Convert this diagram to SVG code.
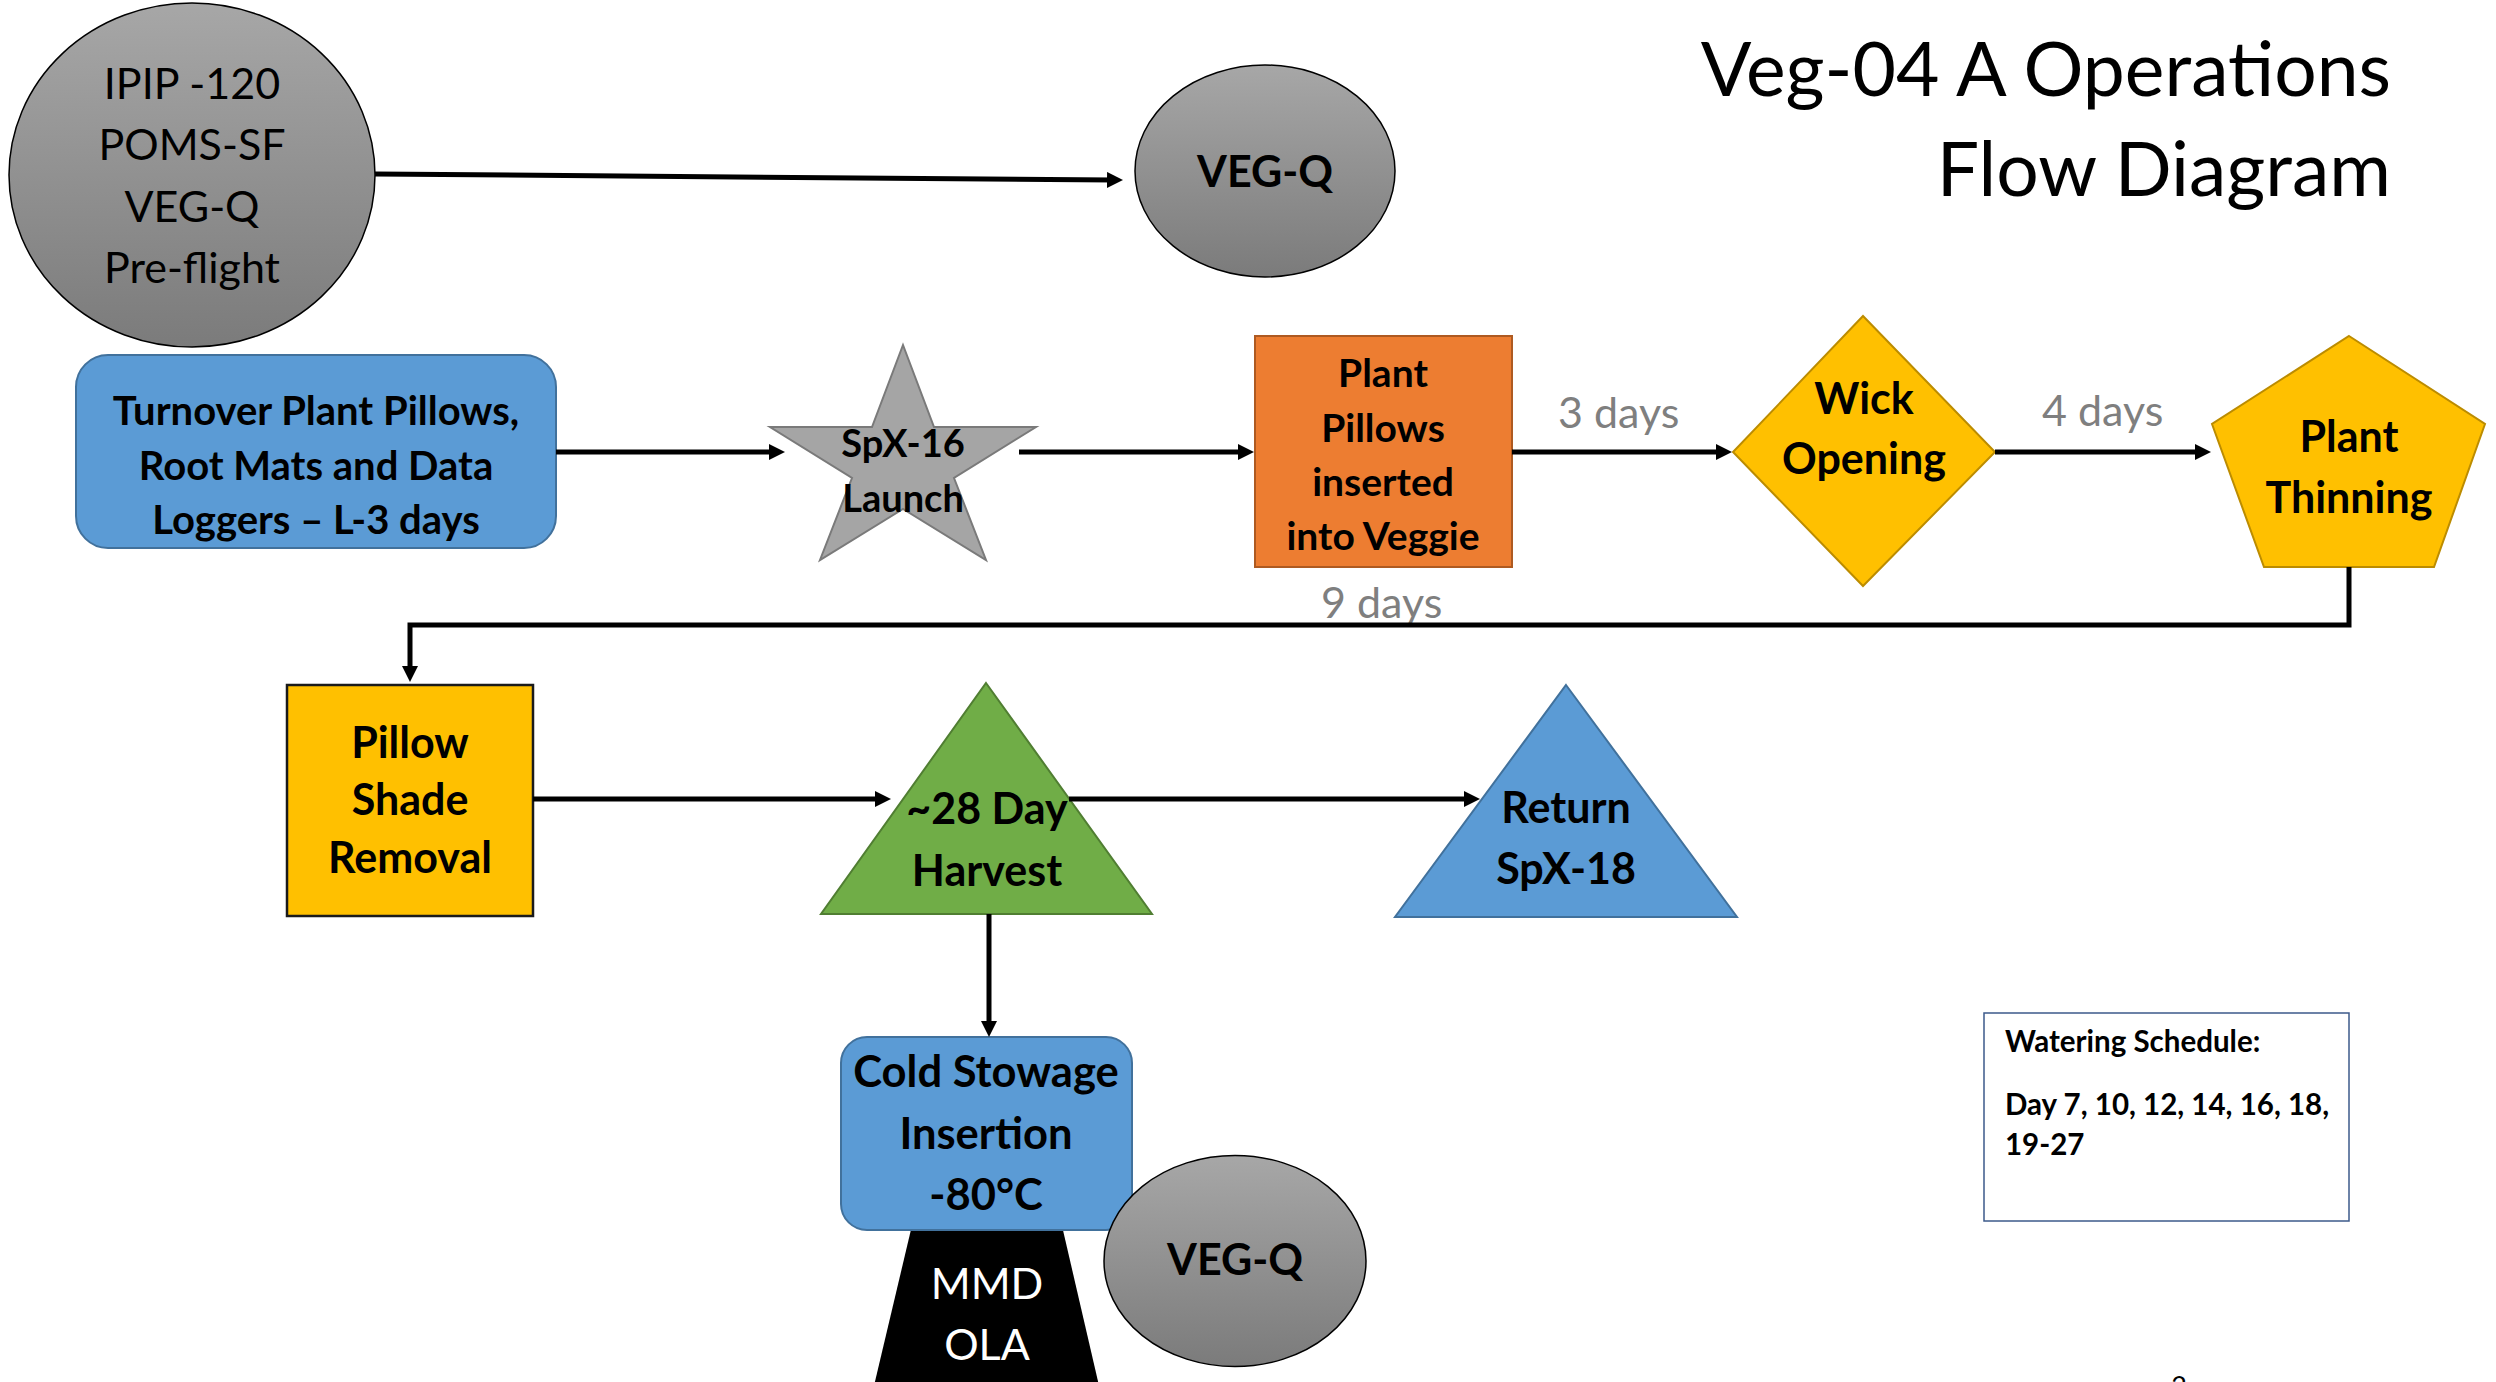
<svg xmlns="http://www.w3.org/2000/svg" width="2496" height="1382" viewBox="0 0 2496 1382">
<style>
text{font-family:Lato,"Open Sans","Liberation Sans",sans-serif;}
.c{text-anchor:middle}
.b{font-weight:700;fill:#000}
.r{font-weight:400;fill:#000}
.gray{font-weight:400;fill:#7f7f7f;font-size:43px}
.s43{font-size:43px}
.s39{font-size:39px}
.ln{fill:none;stroke:#000;stroke-width:5}
.gold{fill:#FFC000;stroke:#BC8C00;stroke-width:2}
.blue{fill:#5B9BD5;stroke:#41719C;stroke-width:2}
</style>
<defs>
<linearGradient id="g" x1="0" y1="0" x2="0" y2="1">
<stop offset="0" stop-color="#a7a7a7"/>
<stop offset="1" stop-color="#7b7b7b"/>
</linearGradient>
<marker id="ah" markerUnits="userSpaceOnUse" markerWidth="18" markerHeight="16" refX="6" refY="8" orient="auto">
<path d="M0,0 L16,8 L0,16 z" fill="#000"/>
</marker>
</defs>
<rect width="2496" height="1382" fill="#fff"/>

<g id="title">
<text x="2391" y="96" style="font-size:75px;text-anchor:end" class="r">Veg-04 A Operations</text>
<text x="2391" y="196" style="font-size:75px;text-anchor:end" class="r">Flow Diagram</text>
</g>

<g id="preflight">
<ellipse cx="192" cy="175" rx="183" ry="172" fill="url(#g)" stroke="#000" stroke-width="1.5"/>
<text class="r c s43" x="192" y="99">IPIP -120</text>
<text class="r c s43" x="192" y="160">POMS-SF</text>
<text class="r c s43" x="192" y="222">VEG-Q</text>
<text class="r c s43" x="192" y="283">Pre-flight</text>
</g>

<g id="vegq-top">
<ellipse cx="1265" cy="171" rx="130" ry="106" fill="url(#g)" stroke="#000" stroke-width="1.5"/>
<text class="b c s43" x="1265" y="187">VEG-Q</text>
</g>

<g id="turnover">
<rect x="76" y="355" width="480" height="193" rx="32" class="blue"/>
<text class="b c" style="font-size:40px" x="316" y="425">Turnover Plant Pillows,</text>
<text class="b c" style="font-size:40px" x="316" y="480">Root Mats and Data</text>
<text class="b c" style="font-size:40px" x="316" y="534">Loggers – L-3 days</text>
</g>

<g id="launch">
<polygon points="903,345 934,427 1036,427 954,478 986,560 903,509 820,560 852,478 770,427 872,427" fill="#A5A5A5" stroke="#7a7a7a" stroke-width="2"/>
<text class="b c" style="font-size:38px" x="903" y="457">SpX-16</text>
<text class="b c" style="font-size:38px" x="903" y="512">Launch</text>
</g>

<g id="plant-pillows">
<rect x="1255" y="336" width="257" height="231" fill="#ED7D31" stroke="#AE5A21" stroke-width="2"/>
<text class="b c s39" x="1383" y="387">Plant</text>
<text class="b c s39" x="1383" y="442">Pillows</text>
<text class="b c s39" x="1383" y="496">inserted</text>
<text class="b c s39" x="1383" y="550">into Veggie</text>
</g>

<g id="wick">
<polygon points="1863,316 1995,452 1863,586 1733,452" class="gold"/>
<text class="b c s43" x="1864" y="414">Wick</text>
<text class="b c s43" x="1864" y="474">Opening</text>
</g>

<g id="thinning">
<polygon points="2349,336 2485,424 2434,567 2264,567 2212,424" class="gold"/>
<text class="b c s43" x="2349" y="452">Plant</text>
<text class="b c s43" x="2349" y="513">Thinning</text>
</g>

<g id="pillow-shade">
<rect x="287" y="685" width="246" height="231" fill="#FFC000" stroke="#1a1a1a" stroke-width="2.5"/>
<text class="b c s43" x="410" y="758">Pillow</text>
<text class="b c s43" x="410" y="815">Shade</text>
<text class="b c s43" x="410" y="873">Removal</text>
</g>

<g id="harvest">
<polygon points="986,683 1152,914 821,914" fill="#70AD47" stroke="#507E32" stroke-width="2"/>
<text class="b c s43" x="987" y="824">~28 Day</text>
<text class="b c s43" x="987" y="886">Harvest</text>
</g>

<g id="return">
<polygon points="1566,685 1737,917 1395,917" class="blue"/>
<text class="b c s43" x="1566" y="823">Return</text>
<text class="b c s43" x="1566" y="884">SpX-18</text>
</g>

<g id="mmd-ola">
<polygon points="918,1200 1056,1200 1100,1390 873,1390" fill="#000"/>
<text class="r c s43" style="fill:#fff" x="987" y="1299">MMD</text>
<text class="r c s43" style="fill:#fff" x="987" y="1360">OLA</text>
</g>

<g id="cold-stowage">
<rect x="841" y="1037" width="291" height="193" rx="26" class="blue"/>
<text class="b c" style="font-size:43.5px" x="986" y="1087">Cold Stowage</text>
<text class="b c" style="font-size:43.5px" x="986" y="1149">Insertion</text>
<text class="b c" style="font-size:43.5px" x="986" y="1210">-80°C</text>
</g>

<g id="vegq-bottom">
<ellipse cx="1235" cy="1261" rx="131" ry="105.5" fill="url(#g)" stroke="#000" stroke-width="1.5"/>
<text class="b c s43" x="1235" y="1275">VEG-Q</text>
</g>

<g id="watering">
<rect x="1984" y="1013" width="365" height="208" fill="#fff" stroke="#3d5a8a" stroke-width="1.5"/>
<text class="b" style="font-size:29.5px" x="2005" y="1052">Watering Schedule:</text>
<text class="b" style="font-size:29.5px" x="2005" y="1115">Day 7, 10, 12, 14, 16, 18,</text>
<text class="b" style="font-size:29.5px" x="2005" y="1155">19-27</text>
</g>

<g id="labels">
<text class="gray" x="1558" y="428">3 days</text>
<text class="gray" x="2042" y="426">4 days</text>
<text class="gray" x="1321" y="618">9 days</text>
<text class="r c" style="font-size:27px" x="2179" y="1396">2</text>
</g>

<g id="connectors">
<line class="ln" x1="375" y1="174" x2="1113" y2="180" marker-end="url(#ah)"/>
<line class="ln" x1="556" y1="452" x2="775" y2="452" marker-end="url(#ah)"/>
<line class="ln" x1="1019" y1="452" x2="1244" y2="452" marker-end="url(#ah)"/>
<line class="ln" x1="1512" y1="452" x2="1722" y2="452" marker-end="url(#ah)"/>
<line class="ln" x1="1995" y1="452" x2="2201" y2="452" marker-end="url(#ah)"/>
<polyline class="ln" points="2349,567 2349,625 410,625 410,672" marker-end="url(#ah)"/>
<line class="ln" x1="533" y1="799" x2="881" y2="799" marker-end="url(#ah)"/>
<line class="ln" x1="1069" y1="799" x2="1470" y2="799" marker-end="url(#ah)"/>
<line class="ln" x1="989" y1="914" x2="989" y2="1027" marker-end="url(#ah)"/>
</g>
</svg>
